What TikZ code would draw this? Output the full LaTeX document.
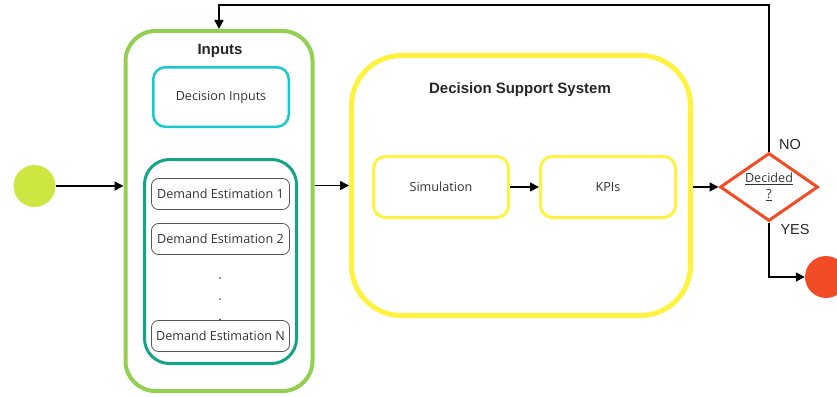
\documentclass[tikz,border=0pt]{standalone}
\usepackage{fontspec}
\setmainfont{Open Sans}
\newfontfamily\headfont{Liberation Sans}
\usetikzlibrary{arrows.meta,shapes.geometric}

\definecolor{inputgreen}{RGB}{146,208,80}
\definecolor{infocyan}{RGB}{24,201,208}
\definecolor{demandteal}{RGB}{20,163,133}
\definecolor{dssyellow}{RGB}{255,242,64}
\definecolor{startlime}{RGB}{206,230,66}
\definecolor{endred}{RGB}{242,76,39}
\definecolor{textgray}{RGB}{51,51,51}
\definecolor{framegray}{RGB}{85,85,85}

\tikzset{
  flow/.style={line width=1.6pt, -{Triangle[length=9pt,width=9pt]}},
  plainbox/.style={rounded corners=#1, align=center, inner sep=0pt,
    font=\fontsize{12.6}{14}\selectfont, text=textgray},
  outerbox/.style={plainbox=30pt, draw=inputgreen, line width=4pt},
  cyanbox/.style={plainbox=12pt, draw=infocyan, line width=2.5pt},
  groupbox/.style={plainbox=25pt, draw=demandteal, line width=3pt},
  demandbox/.style={plainbox=7pt, draw=framegray, line width=0.8pt,
    minimum width=138pt, minimum height=31pt},
  dssbox/.style={plainbox=50pt, draw=dssyellow, line width=5pt},
  stagebox/.style={plainbox=12pt, draw=dssyellow, line width=3pt,
    minimum width=135pt, minimum height=61pt},
  title/.style={font=\headfont\bfseries\fontsize{15}{17}\selectfont, text=black!85},
  answer/.style={font=\headfont\fontsize{14.5}{16}\selectfont, text=black!85},
  dotmark/.style={circle, fill=black!80, inner sep=0pt, minimum size=1.8pt},
  terminal/.style={circle, inner sep=0pt, minimum size=42pt},
}

\begin{document}
\begin{tikzpicture}[x=1pt,y=-1pt]
\useasboundingbox (0,0) rectangle (837,396);
\clip (0,0) rectangle (837,396);

% start and end events
\node[terminal, fill=startlime] (start) at (34.5,186) {};
\node[terminal, fill=endred] (finish) at (826,277) {};

% inputs column
\node[outerbox, minimum width=187pt, minimum height=360pt] (inputs) at (219,211) {};
\node[title] (inputstitle) at (220,51) {Inputs};
\node[cyanbox, minimum width=135.5pt, minimum height=59.5pt] (decin) at (221,97) {Decision Inputs};
\node[groupbox, minimum width=152pt, minimum height=204pt] (demand) at (220.5,261.5) {};
\node[demandbox] (de1) at (220.5,194) {Demand Estimation 1};
\node[demandbox] (de2) at (220.5,239) {Demand Estimation 2};
\node[demandbox] (den) at (220.5,336) {Demand Estimation N};
\node[dotmark] (dot1) at (220,278) {};
\node[dotmark] (dot2) at (220,299) {};
\node[dotmark] (dot3) at (220,319.5) {};

% decision support system
\node[dssbox, minimum width=339pt, minimum height=260pt] (dss) at (521,185.5) {};
\node[title] (dsstitle) at (520,90) {Decision Support System};
\node[stagebox] (sim) at (441,187) {Simulation};
\node[stagebox] (kpi) at (608,187) {KPIs};

% decision
\node[diamond, draw=endred, line width=3pt, aspect=1.44, inner sep=0pt,
      minimum width=98pt, minimum height=68pt, align=center,
      font=\fontsize{12.6}{17}\selectfont, text=textgray] (decide) at (769,187)
      {\underline{Decided}\\[-1pt]\underline{?}};
\node[answer] (nolabel) at (790,145) {NO};
\node[answer] (yeslabel) at (795,230) {YES};

% connectors
\coordinate (looptop) at (769,5);
\draw[flow] (start.east) -- (start.east -| inputs.west);
\draw[flow] (inputs.east |- dss.west) -- (dss.west);
\draw[flow] (sim.east) -- (kpi.west);
\draw[flow] (dss.east |- decide.west) -- (decide.west);
\draw[flow] (decide.north) -- (looptop) -| (inputs.north);
\draw[flow] (decide.south) |- (finish.west);
\end{tikzpicture}
\end{document}
